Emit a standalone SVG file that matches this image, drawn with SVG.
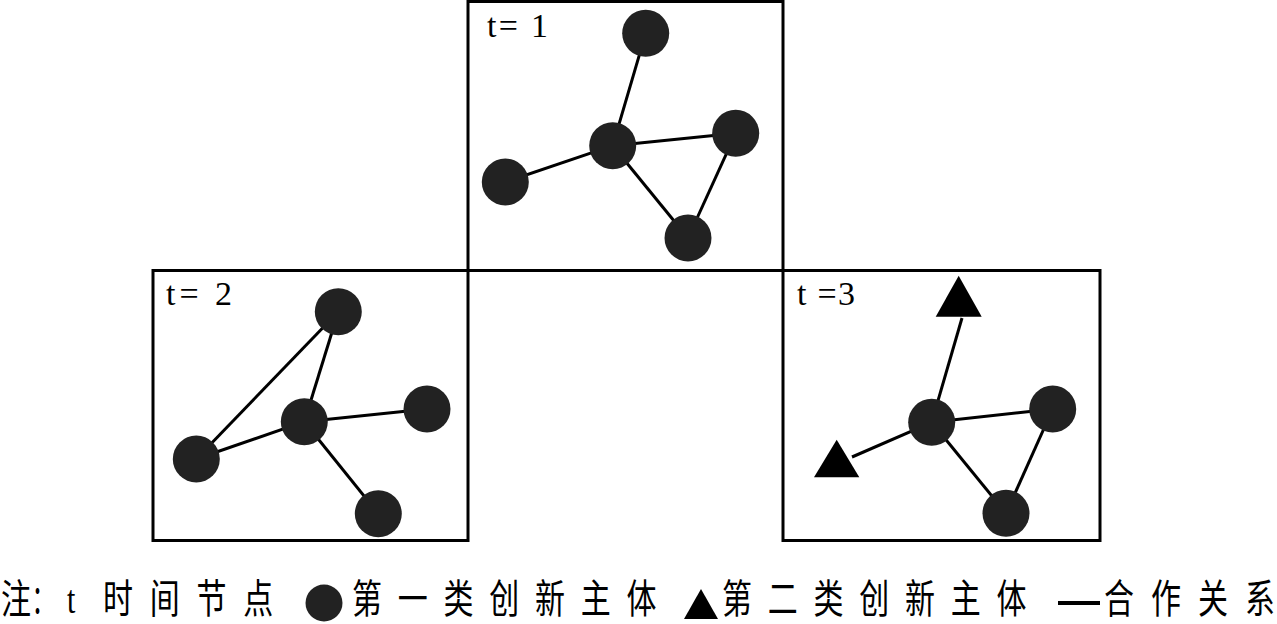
<svg xmlns="http://www.w3.org/2000/svg" width="1277" height="624" viewBox="0 0 1277 624">
<style>
.box{fill:none;stroke:#000;stroke-width:3}
.edge{stroke:#000;stroke-width:3;fill:none}
.n1{fill:#222}
.n2{fill:#000}
.lbl{font-family:"Liberation Serif","Times New Roman",serif;font-size:34px;fill:#000}
.leg{font-family:"Noto Sans CJK SC","Noto Sans",sans-serif;font-size:40px;fill:#000}
.legl{font-family:"Liberation Serif",serif;font-size:40px;fill:#000}
</style>
<rect width="1277" height="624" fill="#fff"/>
<g id="frames">
<rect class="box" x="468" y="1.5" width="315" height="269"/>
<rect class="box" x="153" y="270.5" width="315" height="270"/>
<rect class="box" x="783" y="270.5" width="317" height="270"/>
</g>
<g id="labels">
<text class="lbl" x="487" y="37" textLength="61" lengthAdjust="spacing">t= 1</text>
<text class="lbl" x="166" y="305" textLength="66" lengthAdjust="spacing">t= 2</text>
<text class="lbl" x="797" y="305" textLength="58" lengthAdjust="spacing">t =3</text>
</g>
<g id="connectors">
<line class="edge" x1="645.7" y1="33.3" x2="612.7" y2="145.7"/>
<line class="edge" x1="612.7" y1="145.7" x2="735.7" y2="133.3"/>
<line class="edge" x1="612.7" y1="145.7" x2="505.3" y2="182"/>
<line class="edge" x1="612.7" y1="145.7" x2="688" y2="238"/>
<line class="edge" x1="735.7" y1="133.3" x2="688" y2="238"/>
<line class="edge" x1="338.3" y1="311.7" x2="304.3" y2="421.7"/>
<line class="edge" x1="338.3" y1="311.7" x2="196.3" y2="459"/>
<line class="edge" x1="196.3" y1="459" x2="304.3" y2="421.7"/>
<line class="edge" x1="304.3" y1="421.7" x2="427" y2="409"/>
<line class="edge" x1="304.3" y1="421.7" x2="378.3" y2="513.7"/>
<line class="edge" x1="962" y1="318" x2="931.7" y2="422.3"/>
<line class="edge" x1="852" y1="457" x2="931.7" y2="422.3"/>
<line class="edge" x1="931.7" y1="422.3" x2="1052.7" y2="409"/>
<line class="edge" x1="931.7" y1="422.3" x2="1006" y2="513.3"/>
<line class="edge" x1="1052.7" y1="409" x2="1006" y2="513.3"/>
</g>
<g id="t1-nodes">
<circle id="t1-top" class="n1" cx="645.7" cy="33.3" r="23.5"/>
<circle id="t1-center" class="n1" cx="612.7" cy="145.7" r="23.5"/>
<circle id="t1-right" class="n1" cx="735.7" cy="133.3" r="23.5"/>
<circle id="t1-left" class="n1" cx="505.3" cy="182" r="23.5"/>
<circle id="t1-bottom" class="n1" cx="688" cy="238" r="23.5"/>
</g>
<g id="t2-nodes">
<circle id="t2-top" class="n1" cx="338.3" cy="311.7" r="23.5"/>
<circle id="t2-center" class="n1" cx="304.3" cy="421.7" r="23.5"/>
<circle id="t2-right" class="n1" cx="427" cy="409" r="23.5"/>
<circle id="t2-left" class="n1" cx="196.3" cy="459" r="23.5"/>
<circle id="t2-bottom" class="n1" cx="378.3" cy="513.7" r="23.5"/>
</g>
<g id="t3-nodes">
<polygon id="t3-tri-top" class="n2" points="958.7,275.7 981.7,316.7 935.7,316.7"/>
<polygon id="t3-tri-left" class="n2" points="836.7,439.7 859.3,477.3 814,477.3"/>
<circle id="t3-center" class="n1" cx="931.7" cy="422.3" r="23.5"/>
<circle id="t3-right" class="n1" cx="1052.7" cy="409" r="23.5"/>
<circle id="t3-bottom" class="n1" cx="1006" cy="513.3" r="23.5"/>
</g>
<g id="legend">
<text class="leg" transform="translate(1,612.5) scale(0.75,1)" x="0" y="0">注</text>
<text class="leg" transform="translate(31.5,612.5) scale(0.6,1)" x="0" y="0">：</text>
<text class="legl" transform="translate(67,612.5) scale(0.75,1)" x="0" y="0">t</text>
<text class="leg" transform="translate(103,612.5) scale(0.75,1)" x="0" y="0" textLength="227" lengthAdjust="spacing">时间节点</text>
<circle class="n1" cx="324" cy="603" r="18.5"/>
<text class="leg" transform="translate(352,612.5) scale(0.75,1)" x="0" y="0" textLength="406" lengthAdjust="spacing">第一类创新主体</text>
<polygon class="n2" points="701,589 718,619 684,619"/>
<text class="leg" transform="translate(722,612.5) scale(0.75,1)" x="0" y="0" textLength="406" lengthAdjust="spacing">第二类创新主体</text>
<line x1="1058" y1="603" x2="1100" y2="603" stroke="#000" stroke-width="4"/>
<text class="leg" transform="translate(1104,612.5) scale(0.75,1)" x="0" y="0" textLength="228" lengthAdjust="spacing">合作关系</text>
</g>
</svg>
